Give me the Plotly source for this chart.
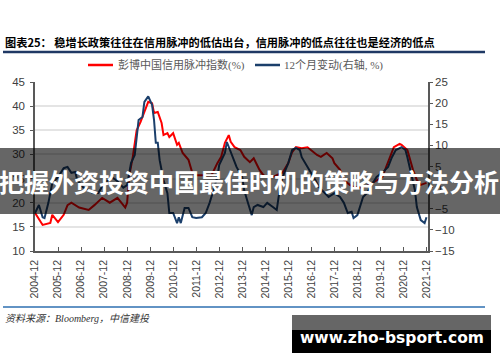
import plotly.graph_objects as go

# ---------------- data ----------------
red_dates = ["2004-12", "2005-04", "2005-08", "2005-09", "2005-12", "2006-03", "2006-05", "2006-07",
             "2006-11", "2007-04", "2007-07", "2007-11", "2008-03", "2008-07", "2008-11", "2008-12",
             "2009-01", "2009-03", "2009-05", "2009-07", "2009-09", "2009-11", "2010-01", "2010-02",
             "2010-04", "2010-06", "2010-07", "2010-09", "2010-10", "2010-12", "2011-02", "2011-03",
             "2011-05", "2011-08", "2011-10", "2011-12", "2012-05", "2012-08", "2012-11", "2013-01",
             "2013-03", "2013-05", "2013-06", "2013-08", "2013-11", "2014-01", "2014-04", "2014-06",
             "2014-09", "2014-11", "2015-01", "2015-04", "2015-06", "2015-09", "2015-12", "2016-02",
             "2016-04", "2016-07", "2016-10", "2016-12", "2017-03", "2017-05", "2017-08", "2017-11",
             "2017-12", "2018-03", "2018-05", "2018-08", "2018-10", "2019-01", "2019-04", "2019-06",
             "2019-10", "2020-01", "2020-03", "2020-05", "2020-07", "2020-10", "2020-11", "2021-02",
             "2021-03", "2021-05", "2021-07", "2021-09", "2021-12"]
red_values = [17.9, 15.4, 15.8, 17.5, 16.0, 17.5, 19.5, 20.0,
              19.0, 18.5, 19.5, 21.0, 20.0, 21.0, 19.0, 20.0,
              25.3, 29.5, 35.0, 36.7, 38.8, 40.9, 40.6, 38.6,
              38.8, 36.5, 34.0, 34.4, 33.6, 34.4, 32.0, 32.4,
              30.3, 28.9, 26.2, 25.7, 25.7, 25.7, 28.2, 29.5,
              32.4, 34.0, 32.6, 31.5, 30.9, 29.5, 28.4, 29.2,
              26.8, 25.7, 25.3, 25.3, 25.7, 26.2, 28.2, 30.5,
              31.5, 31.3, 31.5, 30.9, 29.9, 29.5, 30.3, 29.2,
              28.2, 26.8, 24.7, 23.7, 23.3, 23.1, 23.3, 23.7,
              24.7, 25.3, 27.4, 29.5, 31.5, 32.2, 32.0, 30.9,
              29.5, 26.8, 24.7, 23.7, 24.1]

blue_dates = ["2004-12", "2005-02", "2005-04", "2005-05", "2005-07", "2005-09", "2005-12", "2006-03",
              "2006-05", "2006-06", "2006-07", "2006-09", "2006-10", "2007-01", "2007-04", "2007-06",
              "2007-09", "2007-12", "2008-04", "2008-07", "2008-10", "2008-12", "2009-02", "2009-04",
              "2009-06", "2009-08", "2009-09", "2009-11", "2010-01", "2010-02", "2010-03", "2010-04",
              "2010-05", "2010-07", "2010-09", "2010-10", "2010-12", "2011-02", "2011-03", "2011-04",
              "2011-06", "2011-08", "2011-10", "2011-12", "2012-03", "2012-05", "2012-07", "2012-09",
              "2012-11", "2012-12", "2013-03", "2013-04", "2013-06", "2013-08", "2013-09", "2013-12",
              "2014-01", "2014-03", "2014-05", "2014-06", "2014-08", "2014-11", "2015-01", "2015-04",
              "2015-06", "2015-07", "2015-09", "2015-12", "2016-02", "2016-04", "2016-06", "2016-07",
              "2016-10", "2016-12", "2017-02", "2017-04", "2017-07", "2017-09", "2017-12", "2018-03",
              "2018-05", "2018-07", "2018-09", "2018-10", "2018-12", "2019-03", "2019-05", "2019-08",
              "2019-10", "2020-01", "2020-04", "2020-06", "2020-08", "2020-11", "2021-01", "2021-02",
              "2021-04", "2021-06", "2021-07", "2021-09", "2021-11", "2021-12"]
blue_values = [-6.0, -4.1, -7.0, -7.2, -3.6, 1.1, 2.5, 4.6,
               4.9, 4.2, 3.5, 3.7, 1.8, 0.1, -0.6, -1.3,
               -1.3, 1.0, 2.5, 1.5, 0.0, 0.6, 5.8, 7.7,
               16.0, 16.7, 20.3, 21.6, 19.6, 16.0, 10.6, 10.6,
               6.5, 1.8, -1.3, -6.0, -6.0, -8.4, -7.0, -8.4,
               -4.8, -4.8, -7.0, -7.2, -7.0, -6.0, -3.6, -0.6,
               2.5, 5.4, 8.2, 10.8, 8.4, 5.8, 4.9, 2.5,
               -0.6, -3.6, -6.5, -4.6, -4.1, -4.6, -3.6, -4.6,
               -5.3, -2.2, 2.5, 5.8, 8.9, 9.4, 8.9, 7.2,
               4.9, 3.5, 1.8, 0.1, -1.3, -2.2, -1.3, -2.2,
               -3.6, -6.0, -5.7, -7.2, -6.5, -2.2, -1.3, 1.1,
               2.5, 3.5, 4.9, 7.2, 8.9, 9.6, 8.9, 7.2,
               3.5, -0.6, -4.6, -7.7, -8.4, -7.0]

tick_years = list(range(2004, 2022))
tick_vals = [f"{y}-12-01" for y in tick_years]
tick_text = [f"{y}-12" for y in tick_years]

red_name = "彭博中国信用脉冲指数(%)"
blue_name = "12个月变动(右轴, %)"
title_text = "图表25： 稳增长政策往往在信用脉冲的低估出台，信用脉冲的低点往往也是经济的低点"
source_text = "资料来源：Bloomberg，中信建投"
banner_text = "把握外资投资中国最佳时机的策略与方法分析"
watermark_text = "www.zho-bsport.com"

# ---------------- layout geometry (pixels) ----------------
W, H = 500, 362
L, R, T, B = 35, 428, 82, 251


def px(x):
    return (x - L) / (R - L)


def py(y):
    return (B - y) / (B - T)


RED = "#ff0000"
BLUE = "#1b3f6b"
AXIS = "#595959"
TICKFONT = dict(family="Liberation Sans, Arial, sans-serif", size=11.5, color="#404040")

fig = go.Figure()
fig.add_trace(go.Scatter(x=red_dates, y=red_values, mode="lines", name=red_name,
                         line=dict(color=RED, width=2), yaxis="y", showlegend=False))
fig.add_trace(go.Scatter(x=blue_dates, y=blue_values, mode="lines", name=blue_name,
                         line=dict(color=BLUE, width=2), yaxis="y2", showlegend=False))

shapes = [
    # title rule
    dict(type="line", xref="paper", yref="paper", x0=px(3), x1=px(485), y0=py(52), y1=py(52),
         line=dict(color="#1f3864", width=2.5)),
    # bottom rule
    dict(type="line", xref="paper", yref="paper", x0=px(3), x1=px(485), y0=py(307), y1=py(307),
         line=dict(color="#2e6fb0", width=1.5)),
    # legend samples
    dict(type="line", xref="paper", yref="paper", x0=px(88), x1=px(113), y0=py(65), y1=py(65),
         line=dict(color=RED, width=2.5)),
    dict(type="line", xref="paper", yref="paper", x0=px(255), x1=px(280), y0=py(65), y1=py(65),
         line=dict(color=BLUE, width=2.5)),
    # overlay banner
    dict(type="rect", xref="paper", yref="paper", x0=px(0), x1=px(500), y0=py(214), y1=py(148),
         fillcolor="rgba(0,0,0,0.6)", line=dict(width=0), layer="above"),
    # watermark box
    dict(type="rect", xref="paper", yref="paper", x0=px(292), x1=px(491), y0=py(353), y1=py(315),
         fillcolor="#000000", line=dict(width=0), layer="above"),
    dict(type="rect", xref="paper", yref="paper", x0=px(292), x1=px(491), y0=py(330), y1=py(315),
         fillcolor="#666666", line=dict(width=0), layer="above"),
]

annotations = [
    dict(text=title_text, xref="paper", yref="paper", x=px(3), y=py(42), xanchor="left", yanchor="middle",
         showarrow=False, font=dict(family="Noto Sans CJK SC", size=11.2, color="#000000", weight="bold")),
    dict(text=red_name, xref="paper", yref="paper", x=px(116), y=py(65), xanchor="left", yanchor="middle",
         showarrow=False, font=dict(family="Liberation Serif, Noto Sans CJK SC", size=11, color="#595959")),
    dict(text=blue_name, xref="paper", yref="paper", x=px(282), y=py(65), xanchor="left", yanchor="middle",
         showarrow=False, font=dict(family="Liberation Serif, Noto Sans CJK SC", size=11, color="#595959")),
    dict(text=source_text, xref="paper", yref="paper", x=px(3), y=py(318), xanchor="left", yanchor="middle",
         showarrow=False, font=dict(family="Liberation Serif, Noto Sans CJK SC", size=10, color="#333333",
                                    style="italic")),
    dict(text=banner_text, xref="paper", yref="paper", x=px(249), y=py(181), xanchor="center", yanchor="middle",
         showarrow=False, font=dict(family="Noto Sans CJK SC", size=25, color="#ffffff", weight="bold")),
    dict(text=watermark_text, xref="paper", yref="paper", x=px(392), y=py(338), xanchor="center",
         yanchor="middle", showarrow=False,
         font=dict(family="DejaVu Sans", size=15.5, color="#ffffff", weight="bold")),
]

fig.update_layout(
    width=W, height=H,
    margin=dict(l=L, r=W - R, t=T, b=H - B, pad=0),
    paper_bgcolor="#ffffff", plot_bgcolor="#ffffff",
    shapes=shapes, annotations=annotations, showlegend=False,
    xaxis=dict(type="date", range=["2004-12-01", "2021-12-25"], tickvals=tick_vals, ticktext=tick_text,
               tickangle=-90, ticks="inside", ticklen=4, tickcolor=AXIS, showline=True, linecolor=AXIS,
               linewidth=1.5, showgrid=False, zeroline=False, ticklabelstandoff=3,
               tickfont=dict(family="Liberation Sans, Arial, sans-serif", size=10.5, color="#404040")),
    yaxis=dict(range=[10, 45], dtick=5, tick0=10, ticks="outside", ticklen=3, tickcolor=AXIS,
               showline=True, linecolor=AXIS, linewidth=1.5, showgrid=True, gridcolor="#e4e4e4",
               gridwidth=2, zeroline=False, tickfont=TICKFONT, ticklabelstandoff=3),
    yaxis2=dict(range=[-15, 25], dtick=5, tick0=-15, overlaying="y", side="right", ticks="outside",
                ticklen=3, tickcolor=AXIS, showline=True, linecolor=AXIS, linewidth=1.5, showgrid=False,
                zeroline=False, tickfont=TICKFONT),
)

fig.write_html("out.html", config={"displayModeBar": False},
               post_script="document.body.style.margin='0';")
